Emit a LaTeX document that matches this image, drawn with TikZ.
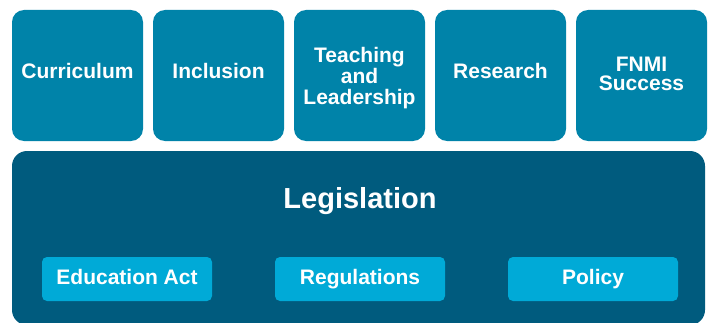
\documentclass[tikz,border=0pt]{standalone}
\usepackage{fontspec}
\setmainfont{Liberation Sans}
\usepackage{xcolor}
\usetikzlibrary{positioning}

\definecolor{pillarblue}{RGB}{0,131,169}
\definecolor{legisblue}{RGB}{0,91,126}
\definecolor{itemblue}{RGB}{0,170,215}

\tikzset{
    pillar/.style={fill=pillarblue, rounded corners=12pt, minimum width=131pt,
        minimum height=131pt, inner sep=0pt},
    pillartext/.style={text=white, align=center, inner sep=0pt,
        font=\bfseries\fontsize{21}{21}\selectfont},
    legisbox/.style={fill=legisblue, rounded corners=15pt, minimum width=693pt,
        minimum height=174pt, inner sep=0pt},
    item/.style={fill=itemblue, rounded corners=5pt, minimum width=170pt,
        minimum height=44pt, inner sep=0pt, text=white, text height=15pt, text depth=4pt,
        font=\bfseries\fontsize{21}{21}\selectfont}
}

\begin{document}
\begin{tikzpicture}[x=1pt, y=1pt]
    \useasboundingbox (0,0) rectangle (709,322);

    % Pillars along the top
    \node[pillar] (curriculum) at (77.5,246.5) {};
    \node[pillar] (inclusion) at (218.5,246.5) {};
    \node[pillar] (teaching) at (359.5,246.5) {};
    \node[pillar] (research) at (500.5,246.5) {};
    \node[pillar] (fnmi) at (641.5,246.5) {};

    % Pillar labels
    \node[pillartext, yshift=4.5pt] (curriculumtxt) at (curriculum) {Curriculum};
    \node[pillartext, yshift=4.5pt] (inclusiontxt) at (inclusion) {Inclusion};
    \node[pillartext, yshift=-2.5pt] (teachingtxt) at (teaching) {Teaching\\and\\Leadership};
    \node[pillartext, yshift=4.5pt] (researchtxt) at (research) {Research};
    \node[pillartext, yshift=1.5pt] (fnmitxt) at (fnmi) {FNMI\\[-2pt]Success};

    % Legislation base
    \node[legisbox] (legislation) at (358.5,84) {};
    \node[anchor=base, text=white, font=\bfseries\fontsize{29}{30}\selectfont]
        (legistitle) at (360,114) {Legislation};

    % Items inside the base
    \node[item] (edact) at (127,43) {Education Act};
    \node[item] (regulations) at (360,43) {Regulations};
    \node[item] (policy) at (593,43) {Policy};
\end{tikzpicture}
\end{document}
